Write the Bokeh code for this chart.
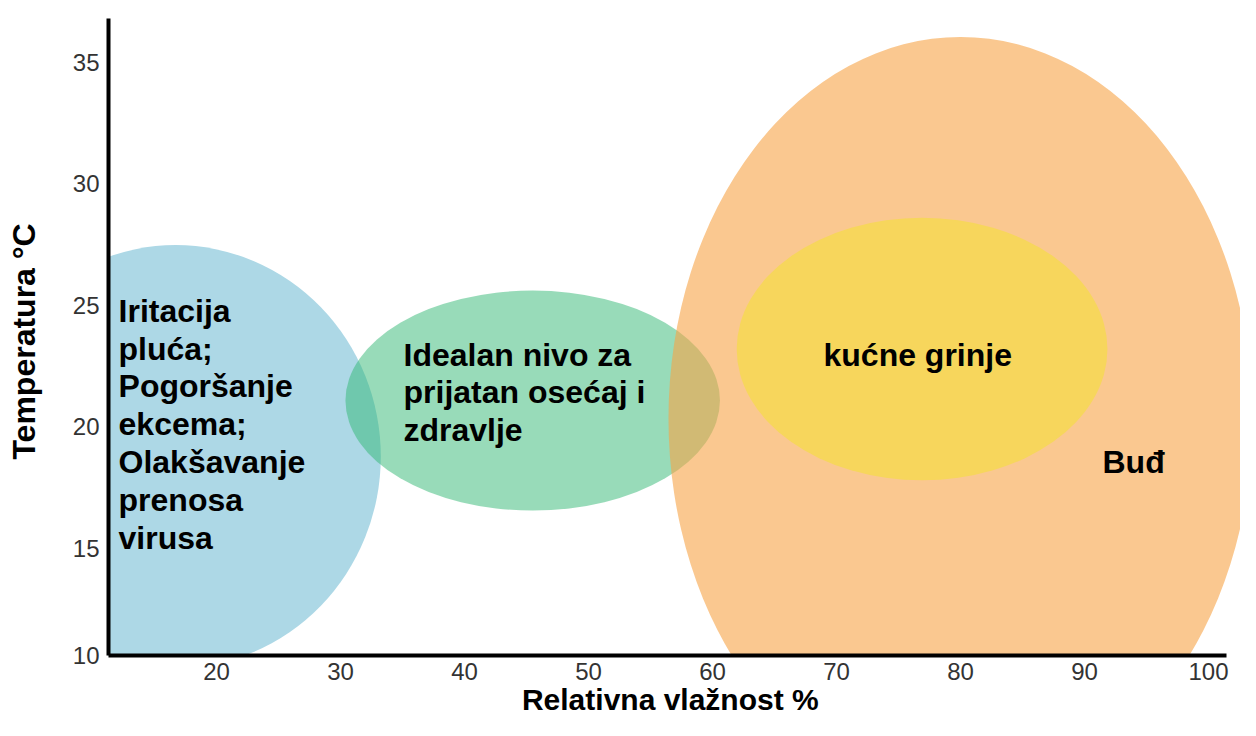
from bokeh.plotting import figure
from bokeh.models import FixedTicker, Range1d
from bokeh.embed import file_html
from bokeh.resources import INLINE
from bokeh.core.properties import value

# Zones (relative humidity %, temperature °C)
zone_names = ["Iritacija", "Idealan", "Buđ", "kućne grinje"]
zone_x = [16.7, 45.5, 80.0, 76.9]
zone_y = [18.77, 21.07, 20.33, 23.19]
zone_w = [33.1, 30.2, 47.1, 29.9]
zone_h = [17.4, 9.05, 31.4, 10.8]
zone_colors = ["#add8e6", "#31b773", "#f7a346", "#f7d65c"]
zone_alpha = [1.0, 0.5, 0.6, 1.0]

label_texts = [
    "Iritacija\npluća;\nPogoršanje\nekcema;\nOlakšavanje\nprenosa\nvirusa",
    "Idealan nivo za\nprijatan osećaj i\nzdravlje",
    "kućne grinje",
    "Buđ",
]
label_x = [12.1, 35.08, 68.95, 91.45]
label_y = [25.5, 23.7, 23.7, 19.3]

x_ticks = [20, 30, 40, 50, 60, 70, 80, 90, 100]
y_ticks = [10.6, 15, 20, 25, 30, 35]
y_tick_labels = {10.6: "10"}

FONT = "Liberation Sans"

p = figure(width=1240, height=720,
           x_range=Range1d(11.29, 102.58), y_range=Range1d(10.58, 36.79),
           output_backend="svg", toolbar_location=None,
           min_border_left=108, min_border_right=0,
           min_border_top=18, min_border_bottom=65)
p.xgrid.visible = False
p.ygrid.visible = False
p.outline_line_color = None
p.background_fill_color = "white"
p.border_fill_color = "white"

for i in range(len(zone_x)):
    p.ellipse(x=[zone_x[i]], y=[zone_y[i]], width=[zone_w[i]], height=[zone_h[i]],
              fill_color=zone_colors[i], fill_alpha=zone_alpha[i], line_color=None)

p.text(x=label_x, y=label_y, text=label_texts,
       text_font=value(FONT), text_font_style="bold", text_font_size="32px",
       text_line_height=1.05, text_align="left", text_baseline="top",
       text_color="black")

for ax in (p.xaxis[0], p.yaxis[0]):
    ax.axis_line_color = "black"
    ax.axis_line_width = 4
    ax.major_tick_line_color = None
    ax.minor_tick_line_color = None
    ax.major_label_text_font = FONT
    ax.major_label_text_font_size = "24px"
    ax.major_label_text_color = "#333333"
    ax.axis_label_text_font = FONT
    ax.axis_label_text_font_style = "bold"
    ax.axis_label_text_color = "black"

p.xaxis.axis_label_text_font_size = "30px"
p.yaxis.axis_label_text_font_size = "32px"
p.xaxis.ticker = FixedTicker(ticks=x_ticks)
p.yaxis.ticker = FixedTicker(ticks=y_ticks)
p.yaxis.major_label_overrides = y_tick_labels
p.xaxis.bounds = (11.29, 101.45)
p.yaxis.bounds = (10.58, 36.79)
p.xaxis.major_label_standoff = 1
p.yaxis.major_label_standoff = 3
p.xaxis.axis_label = "Relativna vlažnost  %"
p.yaxis.axis_label = "Temperatura  °C"
p.xaxis.axis_label_standoff = 0
p.yaxis.axis_label_standoff = 28

open("out.html", "w").write(file_html(p, INLINE))
